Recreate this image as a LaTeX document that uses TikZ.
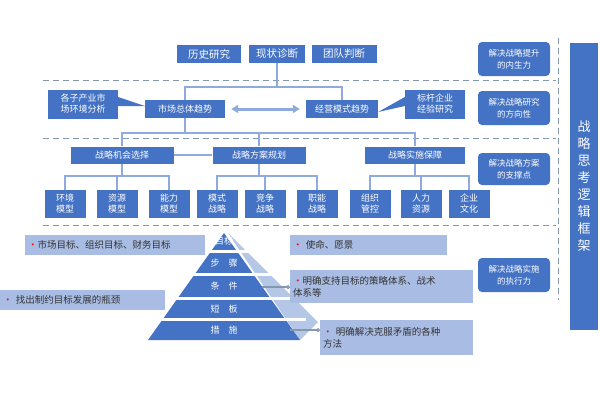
\documentclass[tikz,border=0pt]{standalone}
\usepackage{fontspec}
\setmainfont{Noto Sans CJK SC}
\usetikzlibrary{arrows.meta}
\definecolor{mainblue}{HTML}{4472C4}
\definecolor{lineblue}{HTML}{8FAADC}
\definecolor{dashblue}{HTML}{8497B0}
\definecolor{paleblue}{HTML}{A9BCE3}
\definecolor{sideblue}{HTML}{B4C7E7}
\tikzset{
  box/.style={fill=mainblue,text=white,inner sep=1pt,align=center,font=\fontsize{9}{11}\selectfont},
  goal/.style={fill=mainblue,text=white,rounded corners=4pt,align=center,font=\fontsize{8.5}{12}\selectfont},
  note/.style={fill=paleblue,text=black!80,align=left,anchor=north west,inner sep=3pt,font=\fontsize{9.5}{12}\selectfont},
  link/.style={lineblue,line width=1.6pt},
  sep/.style={dashblue,dashed,line width=1pt,dash pattern=on 6pt off 4pt}
}
\begin{document}
\begin{tikzpicture}[x=1pt,y=-1pt]
  \useasboundingbox (0,0) rectangle (600,400);
  % separators
  \foreach \y in {80,138,225}
    \draw[sep] (43,\y) -- (556,\y);
  \draw[sep] (558,38) -- (558,300);
  % right frame
  \node[box,minimum width=28pt,minimum height=287pt,font=\fontsize{13}{17}\selectfont] (frame) at (584,186) {战\\略\\思\\考\\逻\\辑\\框\\架};
  \node[goal,minimum width=72pt,minimum height=34pt] (g1) at (514,59) {解决战略提升\\的内生力};
  \node[goal,minimum width=72pt,minimum height=34pt] (g2) at (514,108) {解决战略研究\\的方向性};
  \node[goal,minimum width=72pt,minimum height=32pt] (g3) at (514,169) {解决战略方案\\的支撑点};
  \node[goal,minimum width=72pt,minimum height=34pt] (g4) at (514,275) {解决战略实施\\的执行力};
  % row 1
  \node[box,minimum width=64pt,minimum height=18pt,font=\fontsize{10.5}{12}\selectfont] (hist) at (209,54) {历史研究};
  \node[box,minimum width=56pt,minimum height=18pt,font=\fontsize{10.5}{12}\selectfont] (now) at (277,54) {现状诊断};
  \node[box,minimum width=65pt,minimum height=18pt,font=\fontsize{10.5}{12}\selectfont] (team) at (344,54) {团队判断};
  % row 2
  \node[box,minimum width=70pt,minimum height=29pt] (sub) at (83,104) {各子产业市\\场环境分析};
  \node[box,minimum width=80pt,minimum height=18pt] (mkt) at (185,109) {市场总体趋势};
  \node[box,minimum width=72pt,minimum height=18pt] (biz) at (342,109) {经营模式趋势};
  \node[box,minimum width=60pt,minimum height=29pt] (bench) at (435,104) {标杆企业\\经验研究};
  \fill[mainblue] ([yshift=-2]sub.east) -- ([yshift=7]sub.east) -- ([yshift=3]mkt.west) -- cycle;
  \fill[mainblue] ([yshift=-2]bench.west) -- ([yshift=7]bench.west) -- ([yshift=-3]biz.east) -- cycle;
  \draw[lineblue,line width=3pt,{Triangle[width=8pt,length=7pt]}-{Triangle[width=8pt,length=7pt]}] ([xshift=6]mkt.east) -- ([xshift=-6]biz.west);
  % row 3
  \node[box,minimum width=103pt,minimum height=17pt] (opp) at (122,155) {战略机会选择};
  \node[box,minimum width=93pt,minimum height=17pt] (plan) at (259,155) {战略方案规划};
  \node[box,minimum width=100pt,minimum height=17pt] (exec) at (415,155) {战略实施保障};
  % row 4
  \foreach \n/\x/\t in {env/65/环境\\模型, res/117/资源\\模型, cap/169/能力\\模型,
      mode/217/模式\\战略, comp/265/竞争\\战略, func/317/职能\\战略,
      org/370/组织\\管控, hr/421/人力\\资源, cul/469/企业\\文化}
    \node[box,minimum width=41pt,minimum height=28pt] (\n) at (\x,204) {\t};
  % connectors
  \draw[link] (now.south) -- ++(0,24) coordinate (j1);
  \draw[link] (mkt.north) |- (j1) -| (biz.north);
  \draw[link] (mkt.south) -- ++(0,15) coordinate (j2);
  \draw[link] (opp.north) |- (j2) -| (exec.north);
  \draw[link] (plan.north) -- (plan.north |- j2);
  \draw[link] (opp.east) -- (plan.west);
  \foreach \p/\a/\b/\c in {opp/env/res/cap, plan/mode/comp/func, exec/org/hr/cul} {
    \draw[link] (\p.south) -- ++(0,12) coordinate (jj);
    \draw[link] (\a.north) |- (jj) -| (\c.north);
    \draw[link] (\b.north) -- (\b.north |- jj);
  }
  % pyramid
  \fill[sideblue] (228,233) -- (300,340) -- (318,322) -- cycle;
  \foreach \n/\ya/\yb/\t in {p1/233/250/目标, p2/253/273/步\quad 骤, p3/276/297/条\quad 件, p4/300/318/短\quad 板, p5/321/340/措\quad 施} {
    \fill[mainblue] ({224-0.71*(\ya-233)},\ya) -- ({224+0.71*(\ya-233)},\ya) -- ({224+0.71*(\yb-233)},\yb) -- ({224-0.71*(\yb-233)},\yb) -- cycle;
    \node[text=white,font=\fontsize{9}{10}\selectfont,inner sep=0pt] (\n) at (224,{(\ya+\yb)/2}) {\t};
  }
  \foreach \ya in {250,273,297,318}
    \fill[white] ({224-0.71*(\ya-233)-2},\ya) rectangle ({224+0.71*(\ya-233)+22},{\ya+3});
  % notes
  \node[note,text width=174pt,minimum height=20pt] (n1) at (25,235) {\textcolor{red}{•}市场目标、组织目标、财务目标};
  \node[note,text width=151pt,minimum height=20pt] (n2) at (290,235) {\textcolor{red}{•} 使命、愿景};
  \node[note,text width=177pt,minimum height=33pt] (n3) at (290,270) {\textcolor{red}{•}明确支持目标的策略体系、战术\\体系等};
  \node[note,text width=159pt,minimum height=20pt] (n4) at (0,290) {\textcolor{red}{•} 找出制约目标发展的瓶颈};
  \node[note,text width=147pt,minimum height=35pt] (n5) at (320,320) {\textcolor{red}{•} 明确解决克服矛盾的各种\\方法};
  \draw[dashblue,line width=1.2pt,-{Circle[open,length=4pt]}] (262,287) -- (n3.west |- 0,287);
  \draw[dashblue,line width=1.2pt,-{Circle[open,length=4pt]}] (290,330) -- (n5.west |- 0,330);
\end{tikzpicture}
\end{document}
